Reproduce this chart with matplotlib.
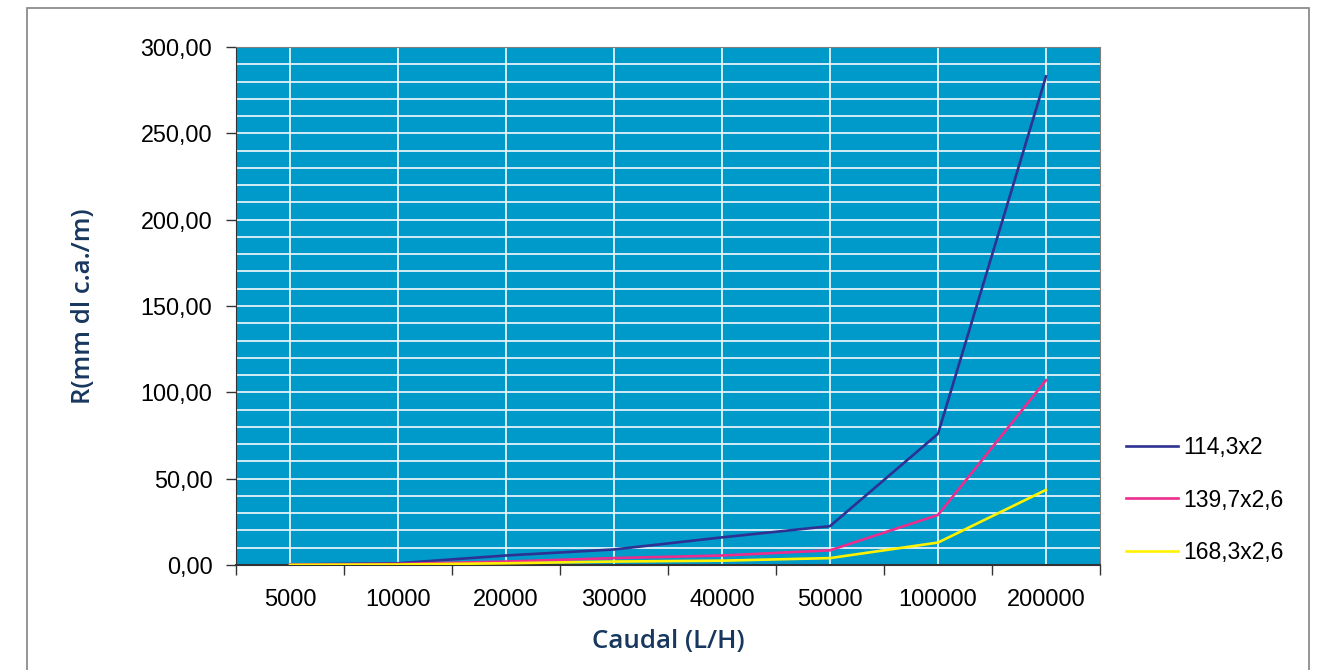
import numpy as np
import matplotlib.pyplot as plt
from matplotlib.patches import Rectangle
from matplotlib.ticker import FuncFormatter, MultipleLocator

caudal = ['5000', '10000', '20000', '30000', '40000', '50000', '100000', '200000']
r_114 = [0.3, 1.0, 5.5, 9.0, 16.0, 22.5, 76.0, 283.0]
r_139 = [0.2, 0.6, 2.0, 4.0, 5.5, 8.5, 29.0, 107.0]
r_168 = [0.1, 0.3, 1.0, 2.0, 2.5, 4.0, 13.0, 43.5]
series = ['114,3x2', '139,7x2,6', '168,3x2,6']

plt.rcParams['font.family'] = ['Liberation Sans', 'DejaVu Sans']

fig = plt.figure(figsize=(13.26, 6.7), dpi=100)
ax = fig.add_axes([236 / 1326, 1 - 565 / 670, (1100 - 236) / 1326, (565 - 47) / 670])
ax.set_facecolor('#009aca')

x = np.arange(len(caudal))
ax.plot(x, r_114, color='#2e3192', lw=1.9, label=series[0], zorder=3)
ax.plot(x, r_139, color='#ec2d8e', lw=1.9, label=series[1], zorder=3)
ax.plot(x, r_168, color='#fff200', lw=1.9, label=series[2], zorder=3)

ax.set_xlim(-0.5, len(caudal) - 0.5)
ax.set_ylim(0, 300)

# ticks at category boundaries, labels/grid at centers
ax.set_xticks(np.arange(-0.5, len(caudal), 1.0))
ax.set_xticklabels([])
ax.set_xticks(x, minor=True)
ax.set_xticklabels(caudal, minor=True)
ax.tick_params(axis='x', which='major', length=7, width=1, color='#333333')
ax.tick_params(axis='x', which='minor', length=0, pad=17.5, labelsize=17)

ax.yaxis.set_major_locator(MultipleLocator(50))
ax.yaxis.set_minor_locator(MultipleLocator(10))
ax.yaxis.set_major_formatter(FuncFormatter(lambda v, p: f'{v:.2f}'.replace('.', ',')))
ax.tick_params(axis='y', which='major', length=7, width=1, color='#333333', labelsize=16.8, pad=10)
ax.tick_params(axis='y', which='minor', length=0)

ax.grid(True, axis='y', which='both', color='#e4f3f9', lw=1.3)
ax.grid(True, axis='x', which='minor', color='#e4f3f9', lw=1.3)
ax.grid(False, axis='x', which='major')
ax.set_axisbelow(True)

ax.spines['left'].set_color('#333333')
ax.spines['bottom'].set_color('#333333')
ax.spines['bottom'].set_linewidth(1.5)
ax.spines['top'].set_color('#7f7f7f')
ax.spines['right'].set_color('#7f7f7f')

ax.set_xlabel('Caudal (L/H)', fontsize=18.6, color='#17375e', family='Open Sans',
              fontweight='semibold', labelpad=13)
ax.set_ylabel('R(mm dl c.a./m)', fontsize=18.6, color='#17375e', family='Open Sans',
              fontweight='semibold', labelpad=32)

ax.legend(loc='center left', bbox_to_anchor=(1105 / 1326, 1 - 500 / 670),
          bbox_transform=fig.transFigure, frameon=False, fontsize=16.5,
          handlelength=2.3, handletextpad=0.2, labelspacing=1.3)

fig.patches.append(Rectangle((27 / 1326, -0.05), (1309 - 27) / 1326, 1.05 - 8 / 670,
                             transform=fig.transFigure, fill=False,
                             edgecolor='#8c8c8c', lw=1.3))

fig.savefig('out.png', dpi=100)
